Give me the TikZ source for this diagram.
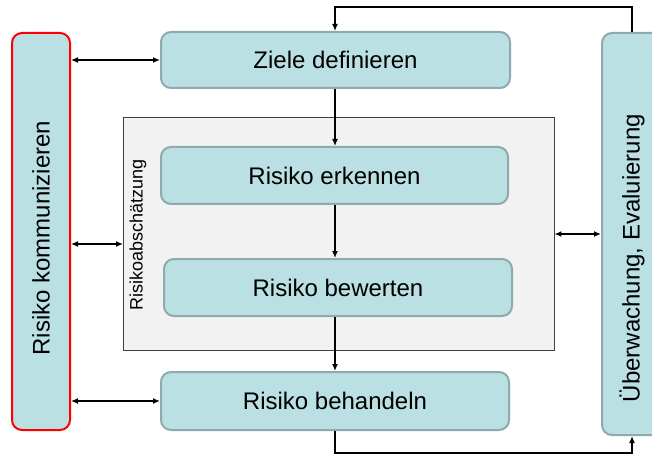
\documentclass[tikz,border=0pt]{standalone}
\usepackage{fontspec}
\setmainfont{Liberation Sans}
\usetikzlibrary{arrows.meta}
\definecolor{boxfill}{HTML}{BAE0E3}
\definecolor{boxline}{HTML}{8FA9AC}
\definecolor{contfill}{HTML}{F2F2F2}
\definecolor{contline}{HTML}{404040}
\definecolor{redline}{HTML}{FF0000}
\begin{document}
\begin{tikzpicture}[x=1pt,y=-1pt,
  procbox/.style={draw=boxline,fill=boxfill,line width=2pt,rounded corners=10pt,
    inner sep=0pt,font=\fontsize{24}{28}\selectfont},
  vlabel/.style={rotate=90,inner sep=0pt,font=\fontsize{24}{28}\selectfont},
  conbox/.style={draw=contline,fill=contfill,line width=0.8pt,inner sep=0pt},
  conn/.style={line width=1.4pt,-{Latex[length=7pt,width=6pt]}},
  conn2/.style={line width=1.4pt,{Latex[length=7pt,width=6pt]}-{Latex[length=7pt,width=6pt]}}]
\useasboundingbox (0,0) rectangle (652,454);
\node[conbox,minimum width=431pt,minimum height=233pt] (cont) at (338.5,233.5) {};
\node[rotate=90,font=\fontsize{18}{20}\selectfont] (abs) at (138,235) {Risikoabschätzung};
\node[procbox,draw=redline,minimum width=58pt,minimum height=397pt] (komm) at (41,231.5) {};
\node[vlabel] (kommt) at ([yshift=-6.5pt]komm.center) {Risiko kommunizieren};
\node[procbox,minimum width=349pt,minimum height=56pt] (ziele) at (335.5,60) {Ziele definieren};
\node[procbox,minimum width=347pt,minimum height=57pt] (erk) at (334.5,175.5) {Risiko erkennen};
\node[procbox,minimum width=348pt,minimum height=57pt] (bew) at (338,287.5) {Risiko bewerten};
\node[procbox,minimum width=348pt,minimum height=58pt] (beh) at (335,401) {Risiko behandeln};
\node[procbox,minimum width=60pt,minimum height=402pt] (ueb) at (632,234) {};
\node[vlabel] (uebt) at ([yshift=-24pt]ueb.center) {Überwachung, Evaluierung};
\coordinate (cL) at (123,244);
\coordinate (topc) at (0,7);
\coordinate (botc) at (0,453);
\draw[conn2] (komm.east |- ziele.west) -- (ziele.west);
\draw[conn2] (komm.east |- cL) -- (cL);
\draw[conn2] (komm.east |- beh.west) -- (beh.west);
\draw[conn2] (cont.east |- ueb.west) -- (ueb.west);
\draw[conn] (beh.north |- ziele.south) -- (beh.north |- erk.north);
\draw[conn] (beh.north |- erk.south) -- (beh.north |- bew.north);
\draw[conn] (beh.north |- bew.south) -- (beh.north);
\draw[conn] (ueb.north) -- (ueb.north |- topc) -| (beh.north |- ziele.north);
\draw[conn] (beh.south) -- (beh.south |- botc) -| (ueb.south);
\end{tikzpicture}
\end{document}
